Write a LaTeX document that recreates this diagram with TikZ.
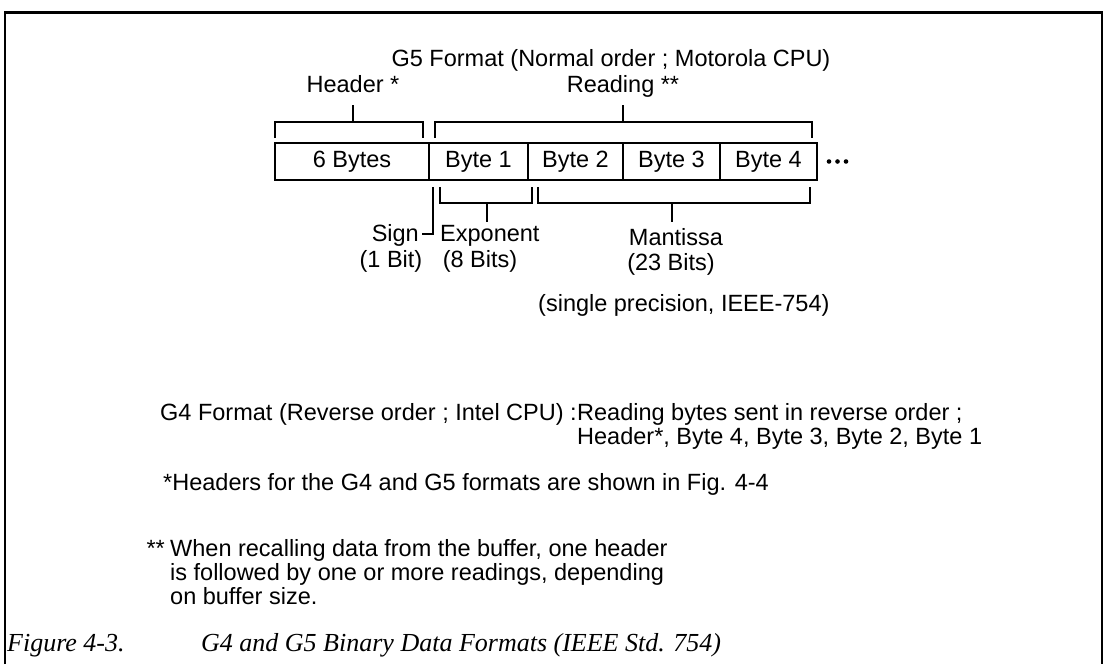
\documentclass[tikz,border=0pt]{standalone}
\usepackage{fontspec}
\setmainfont{Liberation Sans}
\newfontfamily\capfont{Liberation Serif}
\usetikzlibrary{positioning,calc}

\tikzset{
  cell/.style={draw,line width=1.6pt,minimum height=37pt,inner sep=0pt,outer sep=0pt,font=\fontsize{23.5}{25}\selectfont},
  brk/.style={line width=1.5pt},
  lbl/.style={inner sep=0pt,font=\fontsize{23.5}{25}\selectfont},
  figcap/.style={inner sep=0pt,font=\capfont\itshape\fontsize{26}{28}\selectfont},
}

\begin{document}
\begin{tikzpicture}[x=1pt,y=-1pt]
\useasboundingbox (0,0) rectangle (1107,664);
% frame
\draw[line width=1.2pt] (5,664) -- (5,12) -- (1102,12) -- (1102,664);
\draw[line width=3pt] (4,12) -- (1103,12);

\node[lbl,anchor=base] (title) at (611,66) {G5 Format (Normal order ; Motorola CPU)};

% the byte row
\node[cell,minimum width=154pt] (hdr) at (352,161.5) {6 Bytes};
\node[cell,minimum width=99pt,right=0pt of hdr] (b1) {Byte 1};
\node[cell,minimum width=95pt,right=0pt of b1] (b2) {Byte 2};
\node[cell,minimum width=97pt,right=0pt of b2] (b3) {Byte 3};
\node[cell,minimum width=97pt,right=0pt of b3] (b4) {Byte 4};
\foreach \i in {0,1,2}
  \fill ($(b4.east)+(12+8.5*\i,0)$) circle (2.3pt);

% brackets on top
\node[lbl,anchor=base] (hdrlbl) at (353,92) {Header *};
\node[lbl,anchor=base] (readlbl) at (623,92) {Reading **};
\draw[brk] (275,138) |- (423,122) -- (423,138);
\draw[brk] (353,122) -- (353,105);
\draw[brk] (435,138) |- (812,122) -- (812,138);
\draw[brk] (623,122) -- (623,105);

% brackets below
\coordinate (signtop) at (433,187);
\coordinate (signend) at (422,234);
\draw[brk] (signtop) |- (signend);
\draw[brk] (440,187) |- (532,203) -- (532,187);
\draw[brk] (487,203) -- (487,222);
\draw[brk] (538,187) |- (810,203) -- (810,187);
\draw[brk] (672,203) -- (672,222);

\node[lbl,anchor=base east] (sign) at (419,241) {Sign};
\node[lbl,anchor=base] (signbits) at (391,267) {(1 Bit)};
\node[lbl,anchor=base west] (expo) at (440,241) {Exponent};
\node[lbl,anchor=base] (expobits) at (480,267) {(8 Bits)};
\node[lbl,anchor=base] (mant) at (676,245) {Mantissa};
\node[lbl,anchor=base] (mantbits) at (671,270) {(23 Bits)};
\node[lbl,anchor=base west] (prec) at (538,311) {(single precision, IEEE-754)};

% G4 format
\node[lbl,anchor=base west] (g4a) at (160,420) {G4 Format (Reverse order ; Intel CPU) : };
\node[lbl,anchor=base west] (g4b) at (g4a.base east) {Reading bytes sent in reverse order ;};
\node[lbl,anchor=base west] (g4c) at ($(g4b.base west)+(0,24)$) {Header*, Byte 4, Byte 3, Byte 2, Byte 1};

% notes
\node[lbl,anchor=base west] (note1) at (163,490) {*Headers for the G4 and G5 formats are shown in Fig. 4-4};
\node[lbl,anchor=base west] (note2) at (170,556) {When recalling data from the buffer, one header};
\node[lbl,anchor=base west] (note2b) at ($(note2.base west)+(0,24)$) {is followed by one or more readings, depending};
\node[lbl,anchor=base west] (note2c) at ($(note2b.base west)+(0,24)$) {on buffer size.};
\node[lbl,anchor=base east] (stars) at ($(note2.base west)+(-5,0)$) {**};

% caption
\node[figcap,anchor=base west] (fig) at (7,651) {Figure 4-3.};
\node[figcap,anchor=base west] (figtxt) at (201,651) {G4 and G5 Binary Data Formats (IEEE Std. 754)};
\end{tikzpicture}
\end{document}
